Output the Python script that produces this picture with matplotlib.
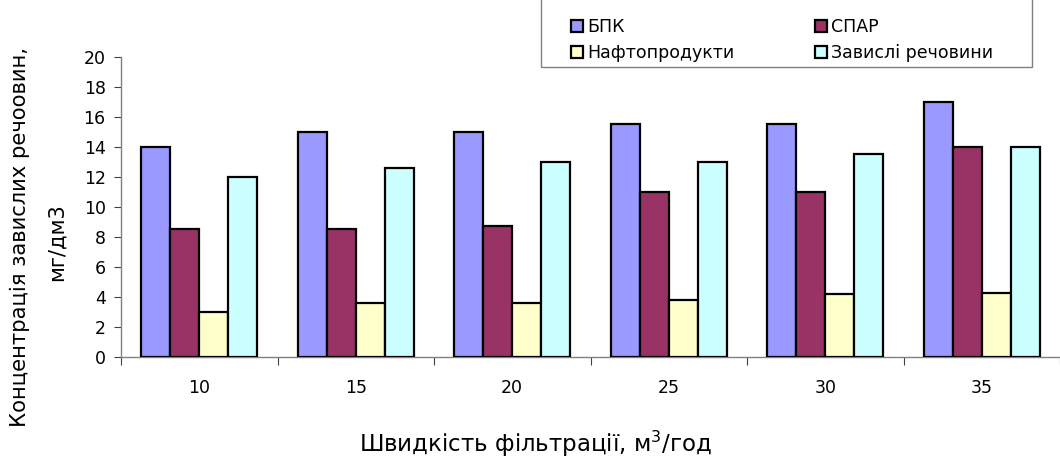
import numpy as np
import matplotlib.pyplot as plt
from matplotlib.patches import Rectangle

plt.rcParams['font.family'] = ['DejaVu Sans']

speeds = ['10', '15', '20', '25', '30', '35']
bpk = [14, 15, 15, 15.5, 15.5, 17]
spar = [8.5, 8.5, 8.7, 11, 11, 14]
nafta = [3, 3.6, 3.6, 3.8, 4.2, 4.3]
zavisli = [12, 12.6, 13, 13, 13.5, 14]

series = [
    ('БПК', bpk, '#9999FF'),
    ('СПАР', spar, '#993366'),
    ('Нафтопродукти', nafta, '#FFFFCC'),
    ('Завислі речовини', zavisli, '#CCFFFF'),
]

FS = 12.5
W, H = 1060, 461
fig = plt.figure(figsize=(W / 100, H / 100), dpi=100)
ax = fig.add_axes([121 / W, 1 - 357 / H, 1 - 121 / W, 300 / H])

x = np.arange(len(speeds))
bw = 0.185
bars = {}
for i, (name, vals, col) in enumerate(series):
    off = (i - 1.5) * bw
    bars[name] = ax.bar(x + off, vals, bw, color=col, edgecolor='black',
                        linewidth=1.6, label=name, zorder=3)

ax.set_xlim(-0.5, len(speeds) - 0.5)
ax.set_ylim(0, 20)
ax.set_yticks(range(0, 21, 2))
ax.set_xticks(np.arange(-0.5, len(speeds), 1.0))
ax.set_xticklabels([])
ax.set_xticks(x, minor=True)
ax.set_xticklabels(speeds, minor=True)
ax.tick_params(axis='x', which='minor', length=0, pad=16, labelsize=FS)
ax.tick_params(axis='x', which='major', direction='out', length=6, color='#404040')
ax.tick_params(axis='y', direction='out', length=5, color='#404040', labelsize=FS, pad=6)

for s in ['top', 'right']:
    ax.spines[s].set_visible(False)
for s in ['left', 'bottom']:
    ax.spines[s].set_color('#808080')
    ax.spines[s].set_linewidth(1.0)

# axis titles
fig.text(20 / W, 1 - 237 / H, 'Концентрація завислих речоовин,', rotation=90,
         ha='center', va='center', fontsize=15.2)
fig.text(57 / W, 1 - 242 / H, 'мг/дм3', rotation=90,
         ha='center', va='center', fontsize=15.2)
fig.text(535 / W, 1 - 444 / H, 'Швидкість фільтрації, м$^3$/год', ha='center',
         va='center', fontsize=16.5)

# legend box runs off the top edge
fig.patches.append(Rectangle((541 / W, 1 - 67 / H), (1032 - 541) / W, 0.3,
                             transform=fig.transFigure, fill=False,
                             edgecolor='#808080', linewidth=1.0))
order = ['БПК', 'Нафтопродукти', 'СПАР', 'Завислі речовини']
leg = fig.legend([bars[n] for n in order], order, ncol=2, frameon=False,
                 loc='upper left', bbox_to_anchor=(564 / W, 1 - 11 / H),
                 fontsize=FS, handlelength=0.7, handleheight=0.7,
                 handletextpad=0.25, columnspacing=4.6, labelspacing=0.45,
                 borderaxespad=0)
for h in leg.legend_handles:
    h.set_linewidth(1.6)

fig.savefig('out.png', dpi=100)
